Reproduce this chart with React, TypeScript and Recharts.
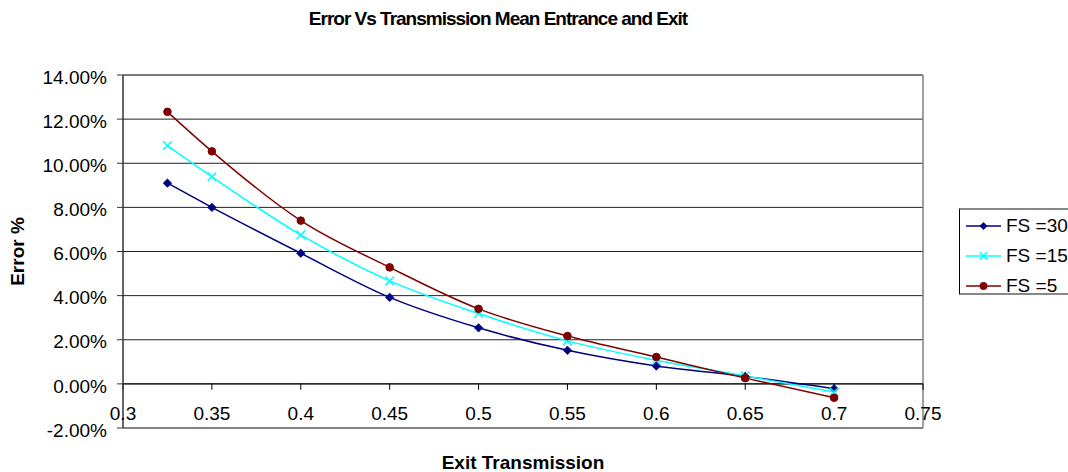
import React from "react";
import {
  LineChart,
  Line,
  XAxis,
  YAxis,
  CartesianGrid,
  ReferenceLine,
  Legend,
  Label,
} from "recharts";

// ---- data ----
const exitTransmission = [0.325, 0.35, 0.4, 0.45, 0.5, 0.55, 0.6, 0.65, 0.7];
const fs30 = [9.1, 8.0, 5.92, 3.92, 2.54, 1.52, 0.81, 0.34, -0.22];
const fs15 = [10.8, 9.39, 6.75, 4.67, 3.19, 1.95, 1.07, 0.36, -0.37];
const fs5 = [12.33, 10.54, 7.4, 5.28, 3.4, 2.17, 1.22, 0.26, -0.63];

const xTicks = [0.3, 0.35, 0.4, 0.45, 0.5, 0.55, 0.6, 0.65, 0.7, 0.75];
const yTicks = [-2, 0, 2, 4, 6, 8, 10, 12, 14];

const seriesNames = ["FS =30", "FS =15", "FS =5"];
const title = "Error Vs Transmission Mean Entrance and Exit";
const xTitle = "Exit Transmission";
const yTitle = "Error %";

const data = exitTransmission.map((x, i) => ({
  x,
  fs30: fs30[i],
  fs15: fs15[i],
  fs5: fs5[i],
}));

const FONT = "'Liberation Sans', Arial, Helvetica, sans-serif";
const NAVY = "#000080";
const CYAN = "#00FFFF";
const MAROON = "#800000";

// ---- marker shapes ----
const Diamond = ({ cx, cy, r = 4.2, color = NAVY }: any) => (
  <path
    d={`M${cx},${cy - r}L${cx + r},${cy}L${cx},${cy + r}L${cx - r},${cy}Z`}
    fill={color}
    stroke={color}
    strokeWidth={0.8}
  />
);
const Cross = ({ cx, cy, r = 4.3, color = CYAN }: any) => (
  <g>
    <line x1={cx - r} y1={cy - r} x2={cx + r} y2={cy + r} stroke={color} strokeWidth={1.5} />
    <line x1={cx - r} y1={cy + r} x2={cx + r} y2={cy - r} stroke={color} strokeWidth={1.5} />
  </g>
);
const Dot = ({ cx, cy, r = 3.8, color = MAROON }: any) => (
  <circle cx={cx} cy={cy} r={r} fill={color} stroke={color} />
);

const diamondDot = (p: any) => (
  <Diamond key={`d-${p.index}`} cx={p.cx} cy={p.cy} />
);
const crossDot = (p: any) => <Cross key={`c-${p.index}`} cx={p.cx} cy={p.cy} />;
const circleDot = (p: any) => <Dot key={`o-${p.index}`} cx={p.cx} cy={p.cy} />;

// ---- axis ticks ----
const XTick = (props: any) => {
  const { x, y, payload } = props;
  return (
    <text
      x={x}
      y={y}
      dy={-8.5}
      textAnchor="middle"
      fontSize={19}
      fontFamily={FONT}
      fill="#000"
    >
      {String(payload.value)}
    </text>
  );
};

const legendItems = [
  { name: seriesNames[0], color: NAVY, Marker: Diamond },
  { name: seriesNames[1], color: CYAN, Marker: Cross },
  { name: seriesNames[2], color: MAROON, Marker: Dot },
];

const renderLegend = () => (
  <div
    style={{
      width: 130,
      height: 87,
      boxSizing: "border-box",
      borderLeft: "1px solid #000",
      borderTop: "2px solid #888",
      borderBottom: "2px solid #888",
      background: "#fff",
      fontFamily: FONT,
      fontSize: 19,
      color: "#000",
      paddingTop: 1,
    }}
  >
    {legendItems.map((it) => (
      <div
        key={it.name}
        style={{ height: 30, display: "flex", alignItems: "center" }}
      >
        <svg width={46} height={30} style={{ display: "block" }}>
          <line x1={6} y1={15} x2={41} y2={15} stroke={it.color} strokeWidth={1.5} />
          <it.Marker cx={23.5} cy={15} r={3.6} color={it.color} />
        </svg>
        <span style={{ whiteSpace: "nowrap", lineHeight: "30px" }}>{it.name}</span>
      </div>
    ))}
  </div>
);

export default function App() {
  return (
    <div
      style={{
        position: "absolute",
        left: 0,
        top: 0,
        width: 1068,
        height: 472,
        overflow: "hidden",
        background: "#fff",
      }}
    >
      <div
        style={{
          position: "absolute",
          left: 0,
          top: 7,
          width: 996,
          textAlign: "center",
          fontFamily: FONT,
          fontWeight: "bold",
          fontSize: 19,
          letterSpacing: -1,
          lineHeight: "24px",
          color: "#000",
          zIndex: 2,
        }}
      >
        {title}
      </div>
      <LineChart
        width={1068}
        height={472}
        data={data}
        margin={{ top: 75, right: 145, bottom: 0, left: 0 }}
      >
        <CartesianGrid vertical={false} stroke="#222" strokeWidth={1} />
        <XAxis
          dataKey="x"
          type="number"
          domain={[0.3, 0.75]}
          ticks={xTicks}
          allowDataOverflow
          axisLine={false}
          tickLine={false}
          tickSize={0}
          tickMargin={0}
          height={44}
          tick={<XTick />}
          interval={0}
        >
          <Label
            content={(p: any) => {
              const vb = p.viewBox || {};
              return (
                <text
                  x={vb.x + vb.width / 2}
                  y={vb.y + vb.height - 3.5}
                  textAnchor="middle"
                  fontSize={19}
                  fontWeight="bold"
                  fontFamily={FONT}
                  fill="#000"
                >
                  {xTitle}
                </text>
              );
            }}
          />
        </XAxis>
        <YAxis
          type="number"
          domain={[-2, 14]}
          ticks={yTicks}
          width={123}
          interval={0}
          axisLine={{ stroke: "#333", strokeWidth: 1.5 }}
          tickLine={{ stroke: "#333" }}
          tickSize={6}
          tickMargin={10}
          tick={{ fontSize: 19, fontFamily: FONT, fill: "#000", dy: 2 }}
          tickFormatter={(v: number) => `${v.toFixed(2)}%`}
        >
          <Label
            content={(p: any) => {
              const vb = p.viewBox || {};
              const cx = vb.x + 17;
              const cy = vb.y + vb.height / 2;
              return (
                <text
                  x={cx}
                  y={cy}
                  transform={`rotate(-90 ${cx} ${cy})`}
                  textAnchor="middle"
                  dominantBaseline="central"
                  fontSize={19}
                  fontWeight="bold"
                  fontFamily={FONT}
                  fill="#000"
                >
                  {yTitle}
                </text>
              );
            }}
          />
        </YAxis>
        <ReferenceLine y={-2} stroke="#808080" strokeWidth={1.5} />
        <ReferenceLine y={14} stroke="#666" strokeWidth={1} />
        <ReferenceLine x={0.75} stroke="#808080" strokeWidth={1.5} />
        <ReferenceLine y={0} stroke="#000" strokeWidth={1} />
        {xTicks.map((t) => (
          <ReferenceLine
            key={`xt-${t}`}
            segment={[
              { x: t, y: 0 },
              { x: t, y: -0.27 },
            ]}
            stroke="#000"
            strokeWidth={1}
            ifOverflow="visible"
          />
        ))}
        <Legend
          layout="vertical"
          align="center"
          verticalAlign="middle"
          content={renderLegend}
          wrapperStyle={{ left: 959, top: 208, width: 130 }}
        />
        <Line
          name={seriesNames[0]}
          dataKey="fs30"
          type="monotone"
          stroke={NAVY}
          strokeWidth={1.5}
          dot={diamondDot}
          activeDot={false}
          isAnimationActive={false}
        />
        <Line
          name={seriesNames[1]}
          dataKey="fs15"
          type="monotone"
          stroke={CYAN}
          strokeWidth={1.5}
          dot={crossDot}
          activeDot={false}
          isAnimationActive={false}
        />
        <Line
          name={seriesNames[2]}
          dataKey="fs5"
          type="monotone"
          stroke={MAROON}
          strokeWidth={1.5}
          dot={circleDot}
          activeDot={false}
          isAnimationActive={false}
        />
      </LineChart>
    </div>
  );
}
